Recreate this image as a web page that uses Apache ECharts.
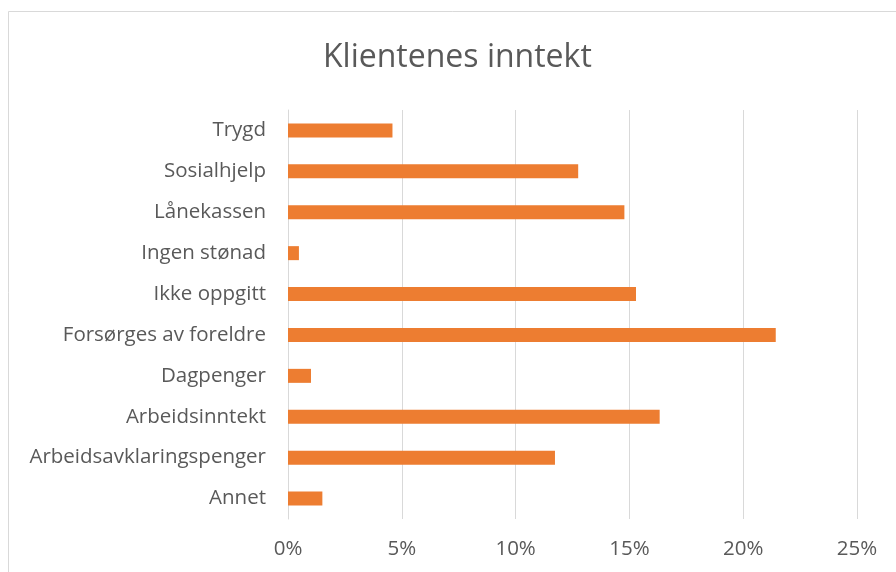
<!DOCTYPE html>
<html>
<head>
<meta charset="utf-8">
<script src="https://cdn.jsdelivr.net/npm/echarts@6/dist/echarts.min.js"></script>
<style>
html,body{margin:0;padding:0;background:#fff;}
#chart{width:896px;height:572px;}
</style>
</head>
<body>
<div id="chart"></div>
<script>
// Categories listed bottom to top
var categories = ['Annet', 'Arbeidsavklaringspenger', 'Arbeidsinntekt', 'Dagpenger', 'Forsørges av foreldre', 'Ikke oppgitt', 'Ingen stønad', 'Lånekassen', 'Sosialhjelp', 'Trygd'];
var values = [1.51, 11.73, 16.33, 1.01, 21.43, 15.29, 0.48, 14.78, 12.75, 4.59];
var titleText = 'Klientenes inntekt';

var chart = echarts.init(document.getElementById('chart'), null, {renderer: 'canvas'});
var font = '"Open Sans", sans-serif';
chart.setOption({
  backgroundColor: '#ffffff',
  animation: false,
  title: {
    text: titleText,
    left: 318,
    top: 37,
    textStyle: {fontFamily: font, fontSize: 32, fontWeight: 'normal', color: '#595959'}
  },
  graphic: [{
    type: 'rect',
    shape: {x: 8.5, y: 11.5, width: 900, height: 600},
    style: {fill: 'none', stroke: '#d9d9d9', lineWidth: 1},
    silent: true
  }],
  grid: {left: 288, right: 39, top: 110, bottom: 53, containLabel: false},
  xAxis: {
    type: 'value',
    min: 0,
    max: 25,
    interval: 5,
    axisLine: {show: false},
    axisTick: {show: false},
    splitLine: {show: true, lineStyle: {color: '#d9d9d9', width: 1}},
    axisLabel: {formatter: '{value}%', color: '#595959', fontFamily: font, fontSize: 20.5, margin: 20}
  },
  yAxis: {
    type: 'category',
    data: categories,
    axisLine: {show: true, lineStyle: {color: '#d9d9d9', width: 1}},
    axisTick: {show: false},
    axisLabel: {color: '#595959', fontFamily: font, fontSize: 20.5, margin: 22}
  },
  series: [{
    type: 'bar',
    data: values,
    barWidth: 14,
    itemStyle: {color: '#ED7D31'},
    silent: true
  }]
});
</script>
</body>
</html>
